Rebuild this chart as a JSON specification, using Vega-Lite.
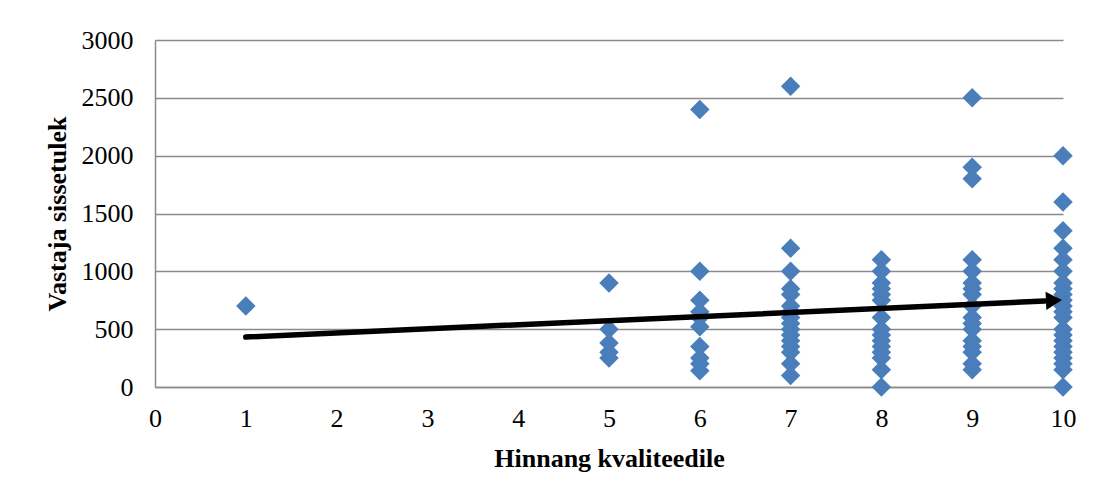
{
  "$schema": "https://vega.github.io/schema/vega-lite/v6.json",
  "width": 908,
  "height": 347,
  "autosize": {"type": "none"},
  "padding": {"left": 155, "top": 40, "right": 38, "bottom": 110},
  "background": "white",
  "config": {
    "view": {"stroke": null},
    "axis": {
      "labelFont": "Liberation Serif",
      "labelFontSize": 26,
      "labelColor": "#000000",
      "labelFlush": false,
      "titleFont": "Liberation Serif",
      "titleFontSize": 26,
      "titleFontWeight": "bold",
      "titleColor": "#000000",
      "domainColor": "#8a8a8a",
      "domainWidth": 1.5,
      "gridColor": "#8a8a8a",
      "gridWidth": 1.5,
      "ticks": false,
      "tickSize": 0
    }
  },
  "datasets": {
    "responses": [
      {"hinnang": 1, "sissetulek": 700},
      {"hinnang": 5, "sissetulek": 900},
      {"hinnang": 5, "sissetulek": 500},
      {"hinnang": 5, "sissetulek": 380},
      {"hinnang": 5, "sissetulek": 300},
      {"hinnang": 5, "sissetulek": 250},
      {"hinnang": 6, "sissetulek": 2400},
      {"hinnang": 6, "sissetulek": 1000},
      {"hinnang": 6, "sissetulek": 750},
      {"hinnang": 6, "sissetulek": 650},
      {"hinnang": 6, "sissetulek": 600},
      {"hinnang": 6, "sissetulek": 520},
      {"hinnang": 6, "sissetulek": 350},
      {"hinnang": 6, "sissetulek": 250},
      {"hinnang": 6, "sissetulek": 200},
      {"hinnang": 6, "sissetulek": 140},
      {"hinnang": 7, "sissetulek": 2600},
      {"hinnang": 7, "sissetulek": 1200},
      {"hinnang": 7, "sissetulek": 1000},
      {"hinnang": 7, "sissetulek": 850},
      {"hinnang": 7, "sissetulek": 800},
      {"hinnang": 7, "sissetulek": 700},
      {"hinnang": 7, "sissetulek": 650},
      {"hinnang": 7, "sissetulek": 600},
      {"hinnang": 7, "sissetulek": 550},
      {"hinnang": 7, "sissetulek": 500},
      {"hinnang": 7, "sissetulek": 450},
      {"hinnang": 7, "sissetulek": 400},
      {"hinnang": 7, "sissetulek": 350},
      {"hinnang": 7, "sissetulek": 300},
      {"hinnang": 7, "sissetulek": 200},
      {"hinnang": 7, "sissetulek": 100},
      {"hinnang": 8, "sissetulek": 1100},
      {"hinnang": 8, "sissetulek": 1000},
      {"hinnang": 8, "sissetulek": 900},
      {"hinnang": 8, "sissetulek": 850},
      {"hinnang": 8, "sissetulek": 800},
      {"hinnang": 8, "sissetulek": 750},
      {"hinnang": 8, "sissetulek": 600},
      {"hinnang": 8, "sissetulek": 500},
      {"hinnang": 8, "sissetulek": 450},
      {"hinnang": 8, "sissetulek": 400},
      {"hinnang": 8, "sissetulek": 350},
      {"hinnang": 8, "sissetulek": 300},
      {"hinnang": 8, "sissetulek": 250},
      {"hinnang": 8, "sissetulek": 150},
      {"hinnang": 8, "sissetulek": 0},
      {"hinnang": 9, "sissetulek": 2500},
      {"hinnang": 9, "sissetulek": 1900},
      {"hinnang": 9, "sissetulek": 1800},
      {"hinnang": 9, "sissetulek": 1100},
      {"hinnang": 9, "sissetulek": 1000},
      {"hinnang": 9, "sissetulek": 900},
      {"hinnang": 9, "sissetulek": 850},
      {"hinnang": 9, "sissetulek": 800},
      {"hinnang": 9, "sissetulek": 700},
      {"hinnang": 9, "sissetulek": 600},
      {"hinnang": 9, "sissetulek": 550},
      {"hinnang": 9, "sissetulek": 500},
      {"hinnang": 9, "sissetulek": 400},
      {"hinnang": 9, "sissetulek": 350},
      {"hinnang": 9, "sissetulek": 300},
      {"hinnang": 9, "sissetulek": 200},
      {"hinnang": 9, "sissetulek": 150},
      {"hinnang": 10, "sissetulek": 2000},
      {"hinnang": 10, "sissetulek": 1600},
      {"hinnang": 10, "sissetulek": 1350},
      {"hinnang": 10, "sissetulek": 1200},
      {"hinnang": 10, "sissetulek": 1100},
      {"hinnang": 10, "sissetulek": 1000},
      {"hinnang": 10, "sissetulek": 900},
      {"hinnang": 10, "sissetulek": 850},
      {"hinnang": 10, "sissetulek": 800},
      {"hinnang": 10, "sissetulek": 750},
      {"hinnang": 10, "sissetulek": 700},
      {"hinnang": 10, "sissetulek": 650},
      {"hinnang": 10, "sissetulek": 600},
      {"hinnang": 10, "sissetulek": 500},
      {"hinnang": 10, "sissetulek": 450},
      {"hinnang": 10, "sissetulek": 400},
      {"hinnang": 10, "sissetulek": 350},
      {"hinnang": 10, "sissetulek": 300},
      {"hinnang": 10, "sissetulek": 250},
      {"hinnang": 10, "sissetulek": 200},
      {"hinnang": 10, "sissetulek": 150},
      {"hinnang": 10, "sissetulek": 0}
    ],
    "trend": [
      {"hinnang": 1, "sissetulek": 432},
      {"hinnang": 9.8, "sissetulek": 744}
    ],
    "arrowhead": [
      {"hinnang": 9.9, "sissetulek": 748}
    ]
  },
  "layer": [
    {
      "data": {"name": "responses"},
      "mark": {"type": "point", "shape": "diamond", "filled": true, "size": 380, "color": "#4a7ebb", "opacity": 1, "strokeWidth": 0},
      "encoding": {
        "x": {
          "field": "hinnang", "type": "quantitative",
          "scale": {"domain": [0, 10], "nice": false, "zero": false},
          "axis": {"title": "Hinnang kvaliteedile", "values": [0,1,2,3,4,5,6,7,8,9,10], "format": "d", "grid": false, "labelPadding": 18, "titlePadding": 14}
        },
        "y": {
          "field": "sissetulek", "type": "quantitative",
          "scale": {"domain": [0, 3000], "nice": false},
          "axis": {"title": "Vastaja sissetulek", "values": [0,500,1000,1500,2000,2500,3000], "format": "d", "grid": true, "labelPadding": 22, "titlePadding": 11}
        }
      }
    },
    {
      "data": {"name": "trend"},
      "mark": {"type": "line", "color": "#000000", "strokeWidth": 5.5, "strokeCap": "round"},
      "encoding": {
        "x": {"field": "hinnang", "type": "quantitative"},
        "y": {"field": "sissetulek", "type": "quantitative"}
      }
    },
    {
      "data": {"name": "arrowhead"},
      "mark": {"type": "point", "shape": "triangle-right", "filled": true, "size": 340, "color": "#000000", "opacity": 1, "angle": -2.6, "strokeWidth": 0},
      "encoding": {
        "x": {"field": "hinnang", "type": "quantitative"},
        "y": {"field": "sissetulek", "type": "quantitative"}
      }
    }
  ]
}
